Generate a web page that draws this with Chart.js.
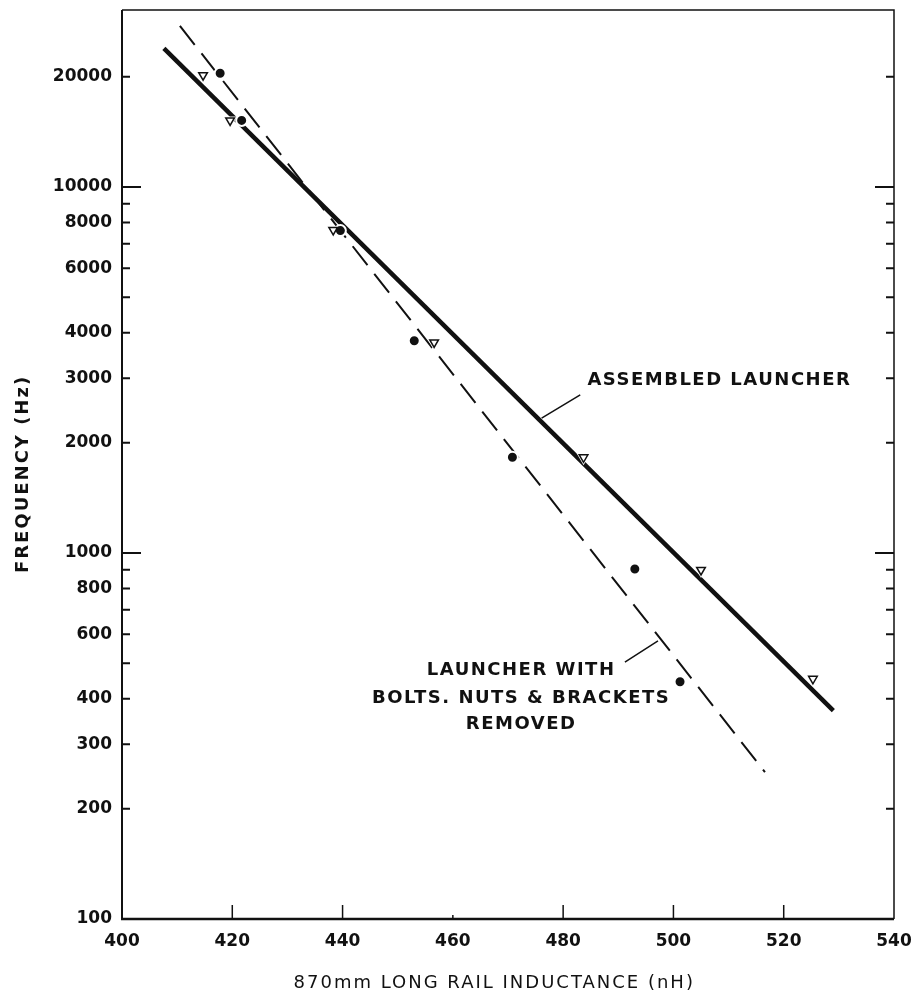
<!DOCTYPE html>
<html>
<head>
<meta charset="utf-8">
<script src="https://cdn.jsdelivr.net/npm/chart.js@4.4.0/dist/chart.umd.min.js"></script>
<style>
html,body{margin:0;padding:0;background:#fff;}
#wrap{width:915px;height:996px;position:relative;}
</style>
</head>
<body>
<div id="wrap"><canvas id="c"></canvas></div>
<script>
// ---- data ----
const xTickValues = [400, 420, 440, 460, 480, 500, 520, 540];
const yTickValues = [100, 200, 300, 400, 600, 800, 1000, 2000, 3000, 4000, 6000, 8000, 10000, 20000];
const yMinorTickValues = [500, 700, 900, 5000, 7000, 9000];
const yMajorTickValues = [100, 1000, 10000];

const assembledX = [414.7, 419.6, 438.3, 456.6, 483.7, 505.0, 525.3];
const assembledY = [20200, 15200, 7630, 3760, 1826, 899, 453];
const removedX = [417.8, 421.7, 439.6, 453.0, 470.8, 493.0, 501.2];
const removedY = [20450, 15200, 7600, 3800, 1826, 904, 445];

const assembledFitX = [407.6, 529.0];
const assembledFitY = [23930, 371];
const removedFitX = [410.5, 516.6];
const removedFitY = [27550, 252];

const assembledLabel = ['ASSEMBLED LAUNCHER'];
const removedLabel = ['LAUNCHER WITH', 'BOLTS. NUTS & BRACKETS', 'REMOVED'];
const xTitle = '870mm LONG RAIL INDUCTANCE (nH)';
const yTitle = 'FREQUENCY (Hz)';

const pts = (xs, ys) => xs.map((x, i) => ({x: x, y: ys[i]}));

const INK = '#111';

const decorPlugin = {
  id: 'decor',
  afterDraw(chart) {
    const {ctx, chartArea: a, scales} = chart;
    const x = scales.x, y = scales.y;
    ctx.save();
    ctx.strokeStyle = INK;
    ctx.fillStyle = INK;
    ctx.lineCap = 'butt';

    // frame
    ctx.lineWidth = 2;
    ctx.beginPath(); ctx.moveTo(a.left, a.top); ctx.lineTo(a.left, a.bottom); ctx.stroke();
    ctx.lineWidth = 2.5;
    ctx.beginPath(); ctx.moveTo(a.left - 1, a.bottom); ctx.lineTo(a.right, a.bottom); ctx.stroke();
    ctx.lineWidth = 1.5;
    ctx.beginPath(); ctx.moveTo(a.left, a.top); ctx.lineTo(a.right, a.top); ctx.lineTo(a.right, a.bottom); ctx.stroke();

    // inward y ticks on both sides
    ctx.lineWidth = 2;
    yTickValues.concat(yMinorTickValues).forEach(v => {
      if (v === 100) return;
      const py = y.getPixelForValue(v);
      const len = yMajorTickValues.includes(v) ? 19 : 8;
      ctx.beginPath();
      ctx.moveTo(a.left, py); ctx.lineTo(a.left + len, py);
      ctx.moveTo(a.right, py); ctx.lineTo(a.right - len, py);
      ctx.stroke();
    });
    // inward x ticks
    ctx.lineWidth = 1.5;
    xTickValues.forEach(v => {
      if (v === 400 || v === 540) return;
      const px = x.getPixelForValue(v);
      const len = v === 460 ? 4 : 14;
      ctx.beginPath(); ctx.moveTo(px, a.bottom); ctx.lineTo(px, a.bottom - len); ctx.stroke();
    });

    // leader lines
    ctx.lineWidth = 1.5;
    ctx.beginPath();
    ctx.moveTo(x.getPixelForValue(476.1), y.getPixelForValue(2335));
    ctx.lineTo(x.getPixelForValue(483.1), y.getPixelForValue(2703));
    ctx.moveTo(x.getPixelForValue(491.2), y.getPixelForValue(503));
    ctx.lineTo(x.getPixelForValue(497.2), y.getPixelForValue(575));
    ctx.stroke();

    // annotation texts
    ctx.textBaseline = 'middle';
    ctx.font = 'bold 18px "DejaVu Sans"';
    ctx.letterSpacing = '1.5px';
    ctx.textAlign = 'left';
    ctx.fillText(assembledLabel[0], x.getPixelForValue(484.4), y.getPixelForValue(2970));
    ctx.textAlign = 'center';
    const rowVals = [479, 402, 341];
    removedLabel.forEach((t, i) => {
      ctx.fillText(t, x.getPixelForValue(472.2) + 1, y.getPixelForValue(rowVals[i]));
    });

    // axis titles
    ctx.font = '18px "DejaVu Sans"';
    ctx.letterSpacing = '2px';
    ctx.textAlign = 'center';
    ctx.fillText(xTitle, x.getPixelForValue(467.5), a.bottom + 64);

    ctx.font = 'bold 18px "DejaVu Sans"';
    ctx.letterSpacing = '2px';
    ctx.translate(23, y.getPixelForValue(1644));
    ctx.rotate(-Math.PI / 2);
    ctx.fillText(yTitle, 0, 0);
    ctx.restore();
  }
};

const tickFont = {family: 'DejaVu Sans', size: 17, weight: 'bold', lineHeight: 1};
const noPad = s => { s.paddingTop = 0; s.paddingBottom = 0; s.paddingLeft = 0; s.paddingRight = 0; };

new Chart(document.getElementById('c'), {
  type: 'scatter',
  data: {
    datasets: [
      {
        label: 'Assembled launcher',
        data: pts(assembledX, assembledY),
        pointStyle: 'triangle', rotation: 180,
        pointRadius: 5, backgroundColor: '#fff', borderColor: INK, borderWidth: 1.5,
        order: 1
      },
      {
        label: 'Launcher with bolts, nuts & brackets removed',
        data: pts(removedX, removedY),
        pointStyle: 'circle',
        pointRadius: 5.5, backgroundColor: INK, borderColor: '#fff', borderWidth: 2,
        order: 1
      },
      {
        label: 'halo',
        data: pts(assembledX, assembledY),
        pointStyle: 'triangle', rotation: 180,
        pointRadius: 8, backgroundColor: '#fff', borderColor: '#fff', borderWidth: 0,
        order: 2
      },
      {
        label: 'Assembled launcher fit',
        data: pts(assembledFitX, assembledFitY),
        showLine: true, borderColor: INK, borderWidth: 4.5, pointRadius: 0, fill: false,
        order: 3
      },
      {
        label: 'Bolts removed fit',
        data: pts(removedFitX, removedFitY),
        showLine: true, borderColor: INK, borderWidth: 2, borderDash: [24, 11],
        pointRadius: 0, fill: false,
        order: 4
      }
    ]
  },
  options: {
    responsive: true,
    maintainAspectRatio: false,
    animation: false,
    events: [],
    layout: {padding: {top: 10, right: 21, left: 0, bottom: 0}},
    plugins: {legend: {display: false}, tooltip: {enabled: false}},
    scales: {
      x: {
        type: 'linear', min: 400, max: 540,
        afterBuildTicks: s => { s.ticks = xTickValues.map(v => ({value: v})); },
        ticks: {autoSkip: false, maxRotation: 0, padding: 14, color: INK, font: tickFont,
                callback: v => String(v)},
        grid: {display: false, drawTicks: false},
        border: {display: false},
        afterFit: s => { s.height = 77; noPad(s); }
      },
      y: {
        type: 'logarithmic', min: 100, max: 30450,
        afterBuildTicks: s => { s.ticks = yTickValues.map(v => ({value: v})); },
        ticks: {autoSkip: false, padding: 10, color: INK, font: tickFont,
                callback: v => String(v)},
        grid: {display: false, drawTicks: false},
        border: {display: false},
        afterFit: s => { s.width = 122; noPad(s); }
      }
    }
  },
  plugins: [decorPlugin]
});
</script>
</body>
</html>
